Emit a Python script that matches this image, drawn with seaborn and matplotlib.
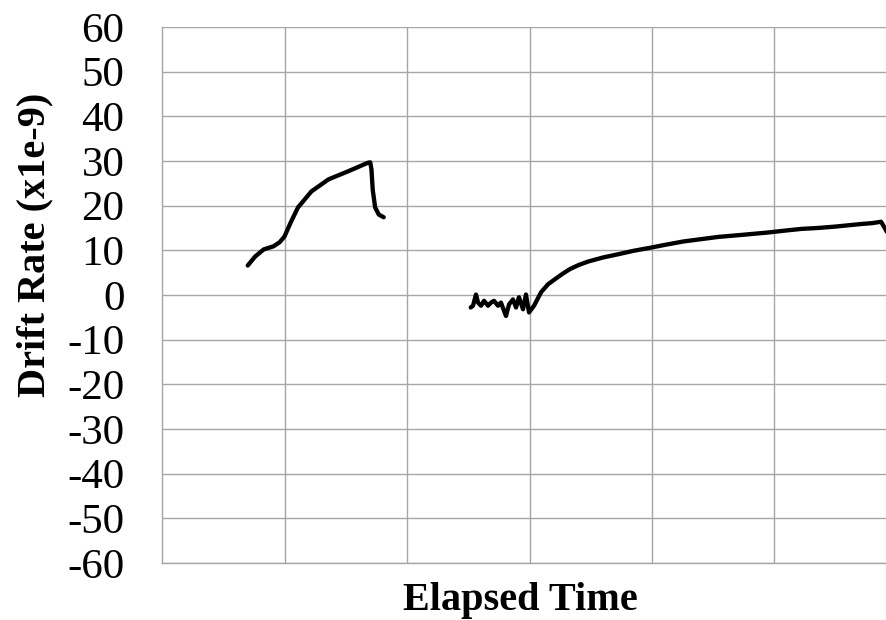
import matplotlib
matplotlib.use("Agg")
import matplotlib.pyplot as plt
import seaborn as sns
import pandas as pd

# First run: drift rate during the early warm-up period
run1_time = [0.70, 0.76, 0.83, 0.91, 0.96, 1.00, 1.05, 1.11, 1.22, 1.36, 1.52, 1.68, 1.70,
             1.71, 1.72, 1.74, 1.77, 1.81]
run1_rate = [6.6, 8.6, 10.2, 10.9, 11.8, 13.1, 16.2, 19.6, 23.2, 25.9, 27.7, 29.6, 29.7,
             28.1, 23.6, 19.6, 18.0, 17.4]

# Second run: noisy start, then slow settling toward ~16
run2_time = [2.52, 2.539, 2.563, 2.580, 2.604, 2.629, 2.661, 2.686, 2.710, 2.743, 2.767,
             2.808, 2.833, 2.865, 2.890, 2.914, 2.947, 2.971, 2.996, 3.037, 3.094, 3.151,
             3.216, 3.273, 3.33, 3.40, 3.48, 3.60, 3.72, 3.85, 3.99, 4.12, 4.26, 4.40,
             4.54, 4.75, 4.95, 5.08, 5.22, 5.35, 5.49, 5.60, 5.71, 5.80, 5.87, 5.90, 5.95]
run2_rate = [-2.8, -2.4, 0.1, -1.7, -2.4, -1.3, -2.4, -1.7, -1.3, -2.4, -1.7,
             -4.7, -2.1, -1.0, -2.8, -0.5, -3.2, 0.1, -3.9, -2.4, 0.6, 2.4,
             3.7, 4.8, 5.8, 6.7, 7.5, 8.4, 9.1, 9.9, 10.6, 11.3, 12.0, 12.5,
             13.0, 13.5, 14.0, 14.4, 14.8, 15.0, 15.3, 15.6, 15.9, 16.1, 16.4, 15.0, 12.5]

y_ticks = [-60, -50, -40, -30, -20, -10, 0, 10, 20, 30, 40, 50, 60]
x_grid = [1, 2, 3, 4, 5]

sns.set_style("white")
plt.rcParams["font.family"] = ["Liberation Serif", "DejaVu Serif"]
plt.rcParams["text.color"] = "black"
plt.rcParams["axes.labelcolor"] = "black"
plt.rcParams["ytick.labelcolor"] = "black"

grid_color = "#a6a6a6"

fig = plt.figure(figsize=(8.87, 6.2), dpi=100)
ax = fig.add_axes([162 / 887, 1 - 563 / 620, (887 - 162) / 887, (563 - 27) / 620])

df1 = pd.DataFrame({"t": run1_time, "r": run1_rate})
df2 = pd.DataFrame({"t": run2_time, "r": run2_rate})
for df in (df1, df2):
    sns.lineplot(data=df, x="t", y="r", ax=ax, sort=False, estimator=None,
                 color="black", linewidth=3.1, solid_joinstyle="round",
                 solid_capstyle="round", zorder=3)

ax.set_xlim(0, (887 - 162) / 122.5)
ax.set_ylim(-60, 60)
ax.set_yticks(y_ticks)
ax.set_yticklabels([str(v) for v in y_ticks], color="black")
ax.set_xticks(x_grid)
ax.set_xticklabels([])

ax.grid(True, color=grid_color, linewidth=1.0)
ax.set_axisbelow(True)
for side in ("top", "right"):
    ax.spines[side].set_visible(False)
for side in ("left", "bottom"):
    ax.spines[side].set_color(grid_color)
    ax.spines[side].set_linewidth(1.0)

ax.tick_params(axis="y", direction="in", length=5, width=1.0, color=grid_color,
               labelsize=31, pad=27, labelcolor="black")
ax.tick_params(axis="x", length=0)

ax.set_xlabel("Elapsed Time", fontsize=29, fontweight="bold", color="black")
ax.set_ylabel("Drift Rate (x1e-9)", fontsize=29, fontweight="bold", color="black")
ax.xaxis.set_label_coords(0.494, -0.035)
ax.yaxis.set_label_coords(-0.15, 0.593)

fig.savefig("out.png", dpi=100)
